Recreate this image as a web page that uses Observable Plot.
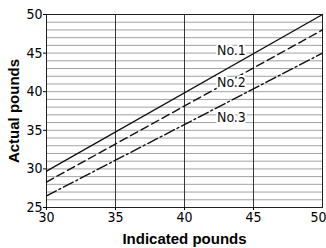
<!DOCTYPE html>
<html><head><meta charset="utf-8">
<script src="https://cdn.jsdelivr.net/npm/d3@7"></script>
<script src="https://cdn.jsdelivr.net/npm/@observablehq/plot@0.6"></script>
<style>
html,body{margin:0;padding:0;background:#fff;}
#chart svg, #chart svg text{font-family:"Liberation Sans Narrow","DejaVu Sans",sans-serif;font-stretch:condensed;}
#chart g[aria-label="y-axis label"] text, #chart g[aria-label="x-axis label"] text{font-family:"Liberation Sans","DejaVu Sans",sans-serif;font-stretch:normal;font-weight:bold;font-size:15px;}
#chart g[aria-label="y-axis tick label"] text, #chart g[aria-label="x-axis tick label"] text{font-size:14px;}
</style>
</head><body><div id="chart"></div>
<script>
const indicated = [30, 50];
const no1 = [29.7, 50];
const no2 = [28.3, 48];
const no3 = [26.5, 45];
const seriesNames = ["No.1", "No.2", "No.3"];
const labelX = [43.4, 43.4, 43.4];
const labelY = [45.3, 41.2, 36.7];
const xTicks = [30, 35, 40, 45, 50];
const yTicks = [25, 30, 35, 40, 45, 50];
const yGrid = d3.range(25, 51, 1);

const series = [no1, no2, no3];
const dashes = [null, "8,4", "11,3,2,3"];
const rows = series.flatMap((s, i) => s.map((v, j) => ({x: indicated[j], y: v, name: seriesNames[i]})));
const labels = seriesNames.map((n, i) => ({x: labelX[i], y: labelY[i], name: n}));

const chart = Plot.plot({
  width: 326, height: 248,
  marginLeft: 46, marginRight: 4, marginTop: 14, marginBottom: 41,
  x: {domain: [30, 50], ticks: xTicks},
  y: {domain: [25, 50], ticks: yTicks},
  marks: [
    Plot.ruleY(yGrid, {stroke: "#8a8a8a", strokeWidth: 0.8}),
    Plot.ruleX(xTicks, {stroke: "#222", strokeWidth: 0.9}),
    Plot.frame({stroke: "#222", strokeWidth: 1}),
    Plot.axisX({ticks: xTicks.slice(0, -1), tickSize: 3, tickPadding: 2, label: "Indicated pounds", labelAnchor: "center", labelArrow: "none", labelOffset: 36}),
    Plot.axisX({ticks: xTicks.slice(-1), tickSize: 0, tickPadding: 5, label: null, dx: -4}),
    Plot.axisY({ticks: yTicks, tickSize: 3, tickPadding: 1, label: "Actual pounds", labelAnchor: "center", labelArrow: "none", labelOffset: 38}),
    ...seriesNames.map((n, i) => Plot.line(rows.filter(d => d.name === n), {x: "x", y: "y", stroke: "#111", strokeWidth: 1.4, strokeDasharray: dashes[i]})),
    Plot.text(labels, {x: "x", y: "y", text: "name", fontSize: 14, fill: "#111", stroke: "white", strokeWidth: 4, textAnchor: "middle"})
  ]
});
document.getElementById("chart").append(chart);
</script></body></html>
